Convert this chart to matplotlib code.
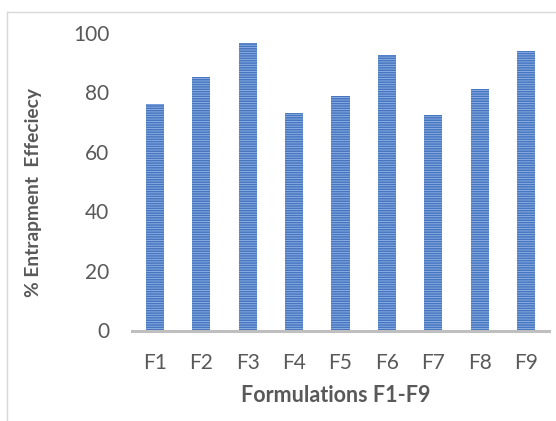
import matplotlib
matplotlib.use("Agg")
import matplotlib.pyplot as plt
from matplotlib.lines import Line2D

categories = ["F1", "F2", "F3", "F4", "F5", "F6", "F7", "F8", "F9"]
values = [76.2, 85.3, 96.6, 73.0, 78.7, 92.7, 72.4, 81.3, 93.8]
yticks = [0, 20, 40, 60, 80, 100]

plt.rcParams['font.family'] = ['Lato', 'DejaVu Sans']
plt.rcParams['hatch.color'] = '#4676c0'
plt.rcParams['hatch.linewidth'] = 1.1

W, H = 556, 421
fig = plt.figure(figsize=(W / 100, H / 100), dpi=100)
ax = fig.add_axes([131.7 / W, 1 - 330.5 / H, (549.3 - 131.7) / W, (330.5 - 33) / H])

x = list(range(len(categories)))
ax.bar(x, values, width=0.39, color='#92b3e6', hatch='-------', linewidth=0)

ax.set_xlim(-0.5, len(categories) - 0.5)
ax.set_ylim(0, 100)
ax.set_yticks(yticks)
ax.set_xticks(x)
ax.set_xticklabels(categories)

for s in ['top', 'right', 'left']:
    ax.spines[s].set_visible(False)
ax.spines['bottom'].set_color('#bfbfbf')
ax.spines['bottom'].set_linewidth(2.2)

ax.tick_params(axis='y', length=0, pad=16, labelsize=15, labelcolor='#595959')
ax.tick_params(axis='x', length=0, pad=16, labelsize=15, labelcolor='#595959')

fig.text(34 / W, 1 - 192.5 / H, "% Entrapment  Effeciecy", rotation=90,
         ha='center', va='center', fontsize=13.8, fontweight='bold', color='#595959')
fig.text(336 / W, 1 - 395 / H, "Formulations F1-F9",
         ha='center', va='center', fontsize=15.5, fontweight='bold', color='#595959')

# chart frame (top and left)
fig.add_artist(Line2D([7.3 / W, 1.0], [1 - 12.3 / H, 1 - 12.3 / H], color='#d9d9d9', lw=1,
                      transform=fig.transFigure))
fig.add_artist(Line2D([7.3 / W, 7.3 / W], [0, 1 - 12.3 / H], color='#d9d9d9', lw=1,
                      transform=fig.transFigure))

fig.savefig("out.png", dpi=100)
